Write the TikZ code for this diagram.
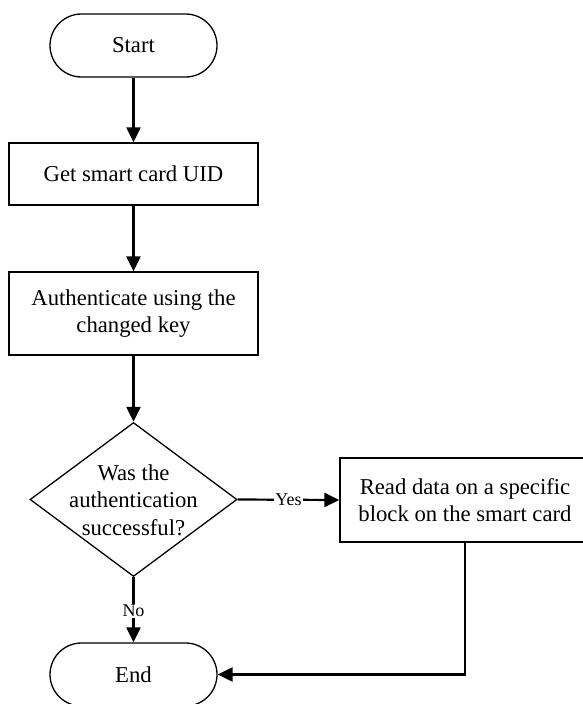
\documentclass[tikz,border=0pt]{standalone}
\usepackage{fontspec}
\setmainfont{Liberation Serif}
\usetikzlibrary{shapes.geometric,arrows.meta}
\begin{document}
\begin{tikzpicture}[x=1pt,y=-1pt,
  base/.style={draw=black, line width=1.3pt, inner sep=0pt, align=center,
    font=\fontsize{22.7}{27}\selectfont},
  term/.style={base, minimum width=167pt, minimum height=63pt, rounded corners=31.5pt},
  proc/.style={base, minimum width=249pt},
  decision/.style={draw=black, line width=1.3pt, diamond, inner sep=0pt,
    minimum width=207pt, minimum height=154pt},
  dectext/.style={align=center, inner sep=0pt, font=\fontsize{22.7}{27.5}\selectfont},
  conn/.style={line width=2.2pt, -{Triangle[length=15pt,width=14pt]}},
  lbl/.style={fill=white, inner sep=1pt, font=\fontsize{18}{20}\selectfont}
]
\useasboundingbox (0,0) rectangle (583,704);
\begin{scope}
\clip (0,0) rectangle (583,704);
\node[term] (start) at (133.5,45.5) {Start};
\node[proc, minimum height=62pt] (get) at (133.5,174) {Get smart card UID};
\node[proc, minimum height=83pt] (auth) at (133.5,313.5) {Authenticate using the\\changed key};
\node[decision] (dec) at (133.5,499.5) {};
\node[dectext] (dect) at (133.5,500) {Was the\\authentication\\successful?};
\node[base, minimum width=250pt, minimum height=84pt] (read) at (465,500) {Read data on a specific\\block on the smart card};
\node[term] (end) at (133.5,674.5) {End};
\end{scope}
\draw[conn] (start) -- (get);
\draw[conn] (get) -- (auth);
\draw[conn] (auth) -- (dec.north);
\draw[conn] (dec.east) -- node[lbl] (yes) {Yes} (read.west);
\draw[conn] (dec.south) -- node[lbl, pos=0.52] (no) {No} (end.north);
\draw[conn] (read.south) |- (end.east);
\end{tikzpicture}
\end{document}
